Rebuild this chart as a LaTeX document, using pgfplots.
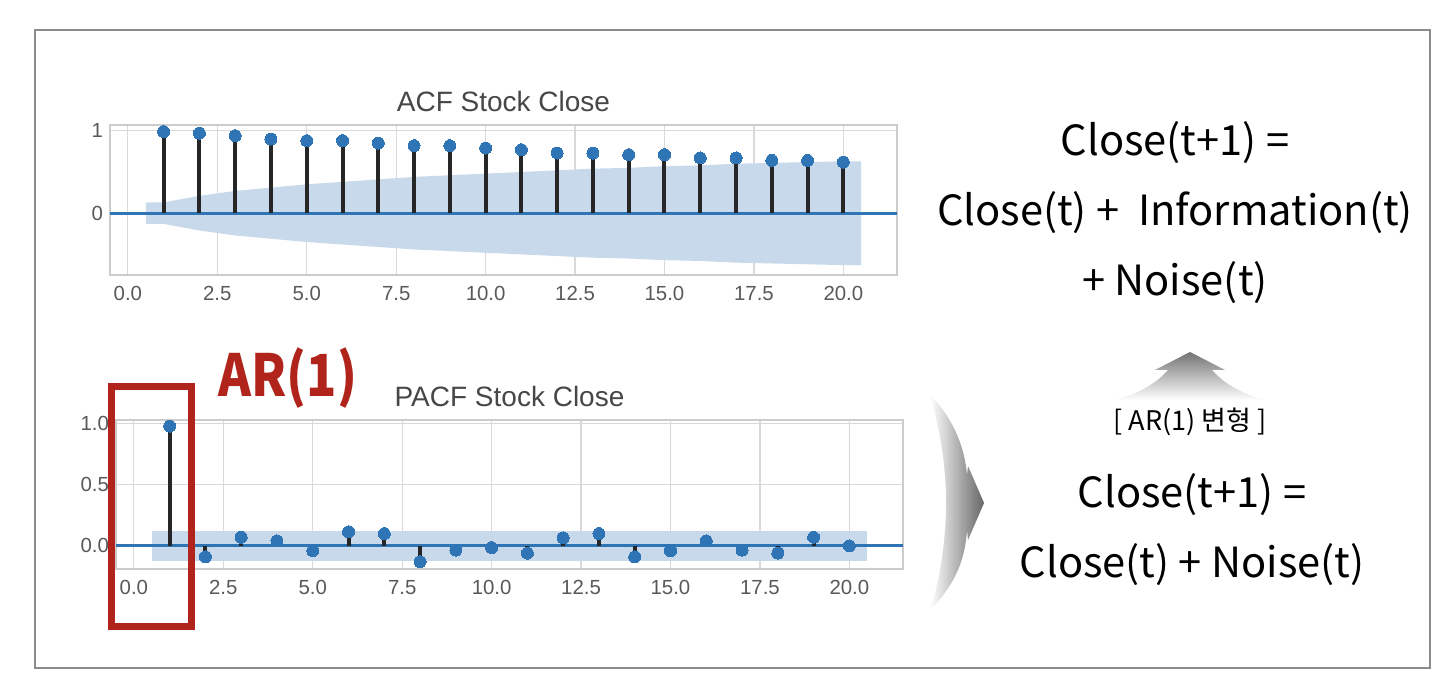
\documentclass[border=0pt]{standalone}
\usepackage{pgfplots}
\pgfplotsset{compat=1.18}
\usepackage{fontspec}
\setmainfont{Liberation Sans}
\newfontfamily\kr{Noto Sans CJK KR}
\definecolor{mblue}{HTML}{2F74B5}
\definecolor{band}{HTML}{C7D9EA}
\definecolor{redbox}{HTML}{B0241B}
\pgfplotsset{
  acfstyle/.style={
    scale only axis, width=393.5pt,
    xmin=-0.5, xmax=21.5,
    axis line style={draw=black!20, line width=1pt},
    grid=major, grid style={black!15, line width=0.6pt},
    major tick length=0pt,
    xtick={0,2.5,5,7.5,10,12.5,15,17.5,20},
    xticklabels={0.0,2.5,5.0,7.5,10.0,12.5,15.0,17.5,20.0},
    ticklabel style={font=\fontsize{10.2}{12}\selectfont, text=black!65},
    xticklabel style={yshift=-2pt},
    title style={font=\fontsize{14}{16}\selectfont, text=black!72, yshift=-3pt},
    clip=false,
    anchor=south west,
  },
  stem/.style={ycomb, black!85, line width=2pt, mark=*, mark size=3pt,
    mark options={fill=mblue, draw=mblue, line width=0pt}},
}
\begin{document}
\begin{tikzpicture}
\path[fill=white] (0,0) rectangle (727pt,345pt);
% ACF
\begin{axis}[acfstyle, at={(55pt,207.5pt)}, height=75pt,
  ymin=-0.75, ymax=1.07, ytick={0,1}, yticklabels={0,1},
  title={ACF Stock Close}]
\addplot[fill=band, draw=none] coordinates {
 (0.5,0.13) (1,0.13) (2,0.21) (3,0.27) (4,0.31) (5,0.35) (6,0.38) (7,0.41)
 (8,0.44) (9,0.46) (10,0.48) (11,0.50) (12,0.52) (13,0.54) (14,0.55) (15,0.57)
 (16,0.58) (17,0.60) (18,0.61) (19,0.62) (20,0.63) (20.5,0.63)
 (20.5,-0.63) (20,-0.63) (19,-0.62) (18,-0.61) (17,-0.60) (16,-0.58) (15,-0.57)
 (14,-0.55) (13,-0.54) (12,-0.52) (11,-0.50) (10,-0.48) (9,-0.46) (8,-0.44)
 (7,-0.41) (6,-0.38) (5,-0.35) (4,-0.31) (3,-0.27) (2,-0.21) (1,-0.13) (0.5,-0.13)};
\addplot[mblue, line width=1.6pt] coordinates {(-0.5,0) (21.5,0)};
\addplot[stem] coordinates {
 (1,0.99) (2,0.97) (3,0.94) (4,0.90) (5,0.88) (6,0.88) (7,0.85) (8,0.82)
 (9,0.82) (10,0.79) (11,0.77) (12,0.73) (13,0.73) (14,0.71) (15,0.71)
 (16,0.67) (17,0.67) (18,0.64) (19,0.64) (20,0.62)};
\end{axis}
% PACF
\begin{axis}[acfstyle, at={(58pt,60.5pt)}, height=74.5pt,
  ymin=-0.19, ymax=1.03, ytick={0,0.5,1}, yticklabels={0.0,0.5,1.0},
  title={PACF Stock Close}]
\addplot[fill=band, draw=none] coordinates {
 (0.5,0.125) (20.5,0.125) (20.5,-0.125) (0.5,-0.125)};
\addplot[mblue, line width=1.6pt] coordinates {(-0.5,0) (21.5,0)};
\addplot[stem] coordinates {
 (1,0.98) (2,-0.09) (3,0.07) (4,0.04) (5,-0.04) (6,0.115) (7,0.10) (8,-0.13)
 (9,-0.035) (10,-0.015) (11,-0.06) (12,0.065) (13,0.10) (14,-0.09) (15,-0.04)
 (16,0.04) (17,-0.035) (18,-0.06) (19,0.07) (20,0.0)};
\end{axis}
\begin{scope}[yshift=345pt, x=0.5pt, y=-0.5pt]
% outer frame
\draw[black!45, line width=0.9pt] (35,30) rectangle (1430,668);
% red box
\draw[redbox, line width=3.5pt] (111.5,386.5) rectangle (191.5,626.5);
\node[text=redbox, font={\kr\bfseries\fontsize{29}{32}\selectfont}, xscale=0.86] at (288,378) {AR(1)};
% right texts
\node[font={\kr\fontsize{20.8}{24}\selectfont}] at (1175,143) {Close(t+1) =};
\node[font={\kr\fontsize{20.8}{24}\selectfont}] at (1175,213) {Close(t) +\ \ Information(t)};
\node[font={\kr\fontsize{20.8}{24}\selectfont}] at (1175,283) {+ Noise(t)};
\node[font={\kr\fontsize{13.5}{16}\selectfont}] at (1190,422) {[ AR(1) 변형 ]};
\node[font={\kr\fontsize{20.8}{24}\selectfont}] at (1192,495) {Close(t+1) =};
\node[font={\kr\fontsize{20.8}{24}\selectfont}] at (1192,565) {Close(t) + Noise(t)};
% up arrow
\shade[top color=black!55, bottom color=white]
  (1190,352) -- (1225,370) -- (1212,370)
  .. controls (1225,385) and (1245,395) .. (1265,400) -- (1115,400)
  .. controls (1135,395) and (1155,385) .. (1168,370) -- (1155,370) -- cycle;
% right arrow
\shade[left color=white, right color=black!60]
  (930,395) .. controls (955,420) and (965,450) .. (967,475) -- (968,466)
  -- (984,503) -- (968,540) -- (967,530)
  .. controls (965,560) and (955,585) .. (930,610)
  .. controls (940,580) and (946,540) .. (946,503)
  .. controls (946,465) and (940,430) .. (930,395) -- cycle;
\end{scope}
\end{tikzpicture}
\end{document}
